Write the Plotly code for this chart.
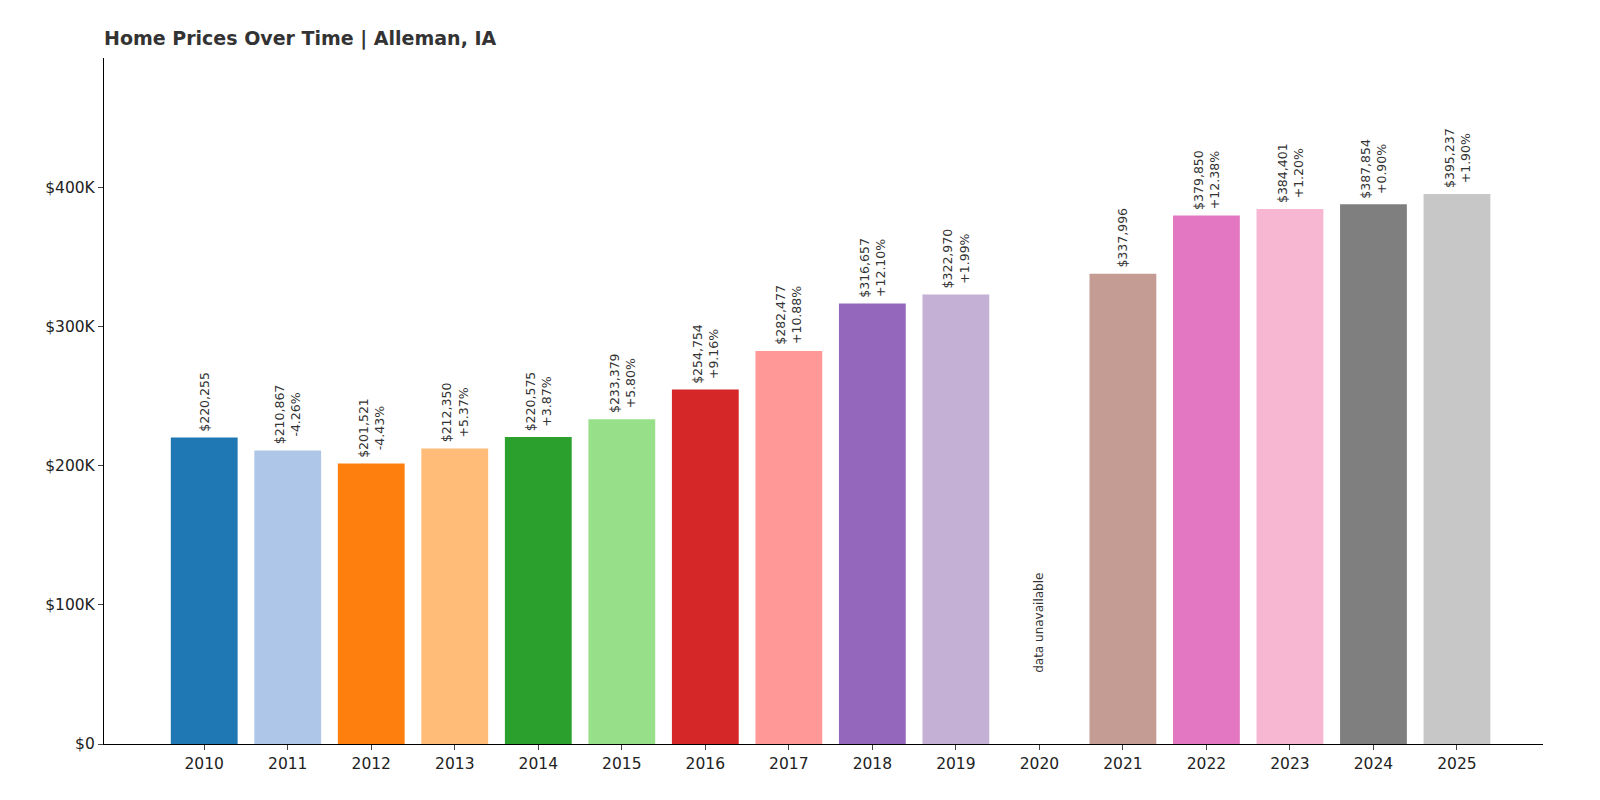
import plotly.graph_objects as go

years = [2010, 2011, 2012, 2013, 2014, 2015, 2016, 2017, 2018, 2019, 2020, 2021, 2022, 2023, 2024, 2025]
values = [220255, 210867, 201521, 212350, 220575, 233379, 254754, 282477, 316657, 322970, None, 337996, 379850, 384401, 387854, 395237]
changes = [None, "-4.26%", "-4.43%", "+5.37%", "+3.87%", "+5.80%", "+9.16%", "+10.88%", "+12.10%", "+1.99%", None, None, "+12.38%", "+1.20%", "+0.90%", "+1.90%"]
colors = ["#1f77b4", "#aec7e8", "#ff7f0e", "#ffbb78", "#2ca02c", "#98df8a", "#d62728", "#ff9896",
          "#9467bd", "#c5b0d5", "#ffffff", "#c49c94", "#e377c2", "#f7b6d2", "#7f7f7f", "#c7c7c7"]
yticks = [0, 100000, 200000, 300000, 400000]
ytick_labels = ["$0", "$100K", "$200K", "$300K", "$400K"]

xs = list(range(len(years)))
fig = go.Figure(go.Bar(x=xs, y=[v if v is not None else 0 for v in values],
                       marker=dict(color=colors, line=dict(width=0)), width=0.8, hoverinfo="skip"))

anns = []
for i, (v, c) in enumerate(zip(values, changes)):
    if v is None:
        anns.append(dict(x=i, y=50000, text="data unavailable", textangle=-90, showarrow=False,
                         xanchor="center", yanchor="bottom", font=dict(size=12, color="#333")))
        continue
    t = f"${v:,}" + (f"<br>{c}" if c else "")
    anns.append(dict(x=i, y=v, text=t, textangle=-90, showarrow=False, xanchor="center",
                     yanchor="bottom", yshift=4, font=dict(size=12.5, color="#333")))

fig.update_layout(
    width=1600, height=800, plot_bgcolor="white", paper_bgcolor="white",
    margin=dict(l=96, r=65, t=50, b=64), showlegend=False,
    font=dict(family="DejaVu Sans", color="#222"),
    title=dict(text="<b>Home Prices Over Time | Alleman, IA</b>", x=96/1600, xanchor="left",
               y=0.962, yanchor="middle", font=dict(size=19, color="#333")),
    annotations=anns,
    xaxis=dict(range=[-1.2, 16.03], tickvals=xs, ticktext=[str(y) for y in years], showgrid=False,
               showline=True, linecolor="black", linewidth=1.2, ticks="outside", ticklen=5,
               tickfont=dict(size=15.5), zeroline=False),
    yaxis=dict(range=[0, 493000], tickvals=yticks, ticktext=ytick_labels, showgrid=False,
               showline=True, linecolor="black", linewidth=1.2, ticks="outside", ticklen=5,
               tickfont=dict(size=15.5), zeroline=False),
)
fig.write_html("out.html")
